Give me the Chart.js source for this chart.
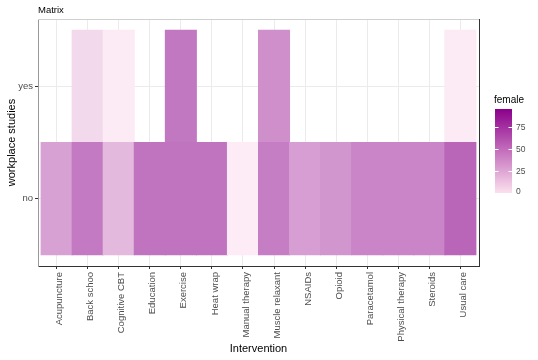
<!DOCTYPE html>
<html><head><meta charset="utf-8">
<script src="https://cdn.jsdelivr.net/npm/chart.js@4/dist/chart.umd.min.js"></script>
<style>html,body{margin:0;padding:0;background:#fff;} #wrap{width:538px;height:360px;}</style>
</head><body><div id="wrap"><canvas id="c" width="538" height="360"></canvas></div>
<script>
const interventions = ["Acupuncture","Back schoo","Cognitive CBT","Education","Exercise","Heat wrap","Manual therapy","Muscle relaxant","NSAIDs","Opioid","Paracetamol","Physical therapy","Steroids","Usual care"];
const studyLevels = ["no","yes"];
const femaleNo  = [54, 82, 37, 86, 86, 86, 0, 79, 56, 62, 74, 74, 74, 96];
const femaleYes = [null, 14, 1, null, 84, null, null, 67, null, null, null, null, null, 2];
const legendBreaks = [0, 25, 50, 75];

const FONT = "'Liberation Sans', Arial, sans-serif";
const allVals = femaleNo.concat(femaleYes).filter(v => v !== null);
const vMin = Math.min(...allVals), vMax = Math.max(...allVals);
const lowRGB = [252, 224, 238], highRGB = [139, 0, 139];
// colour for value v, composited at opacity a over white
function fill(v, a) {
  const t = (v - vMin) / (vMax - vMin);
  const c = lowRGB.map((l, i) => Math.round((l + (highRGB[i] - l) * t) * a + 255 * (1 - a)));
  return `rgb(${c[0]},${c[1]},${c[2]})`;
}
function cells(values, level) {
  const out = [];
  values.forEach((v, i) => { if (v !== null) out.push({x: i, y: [level + 0.5, level + 1.5], v: v}); });
  return out;
}

const framePlugin = {
  id: 'frame',
  afterDraw(chart) {
    const ctx = chart.ctx, a = chart.chartArea;
    ctx.save();
    ctx.lineWidth = 1;
    ctx.strokeStyle = '#d0d0d0';
    ctx.beginPath(); ctx.moveTo(a.left, a.top + 0.5); ctx.lineTo(a.right, a.top + 0.5); ctx.stroke();
    ctx.strokeStyle = '#333';
    ctx.beginPath(); ctx.moveTo(a.right + 0.5, a.top); ctx.lineTo(a.right + 0.5, a.bottom + 1); ctx.stroke();
    ctx.fillStyle = '#000';
    ctx.font = `9.5px ${FONT}`;
    ctx.textAlign = 'left'; ctx.textBaseline = 'middle';
    ctx.fillText('Matrix', a.left, 10);
    const bx = 495, bw = 17, bTop = 109, bBot = 193;
    const yOf = v => bBot - (v - vMin) / (vMax - vMin) * (bBot - bTop);
    const g = ctx.createLinearGradient(0, bBot, 0, bTop);
    for (let s = 0; s <= 10; s++) {
      g.addColorStop(s / 10, fill(vMin + (vMax - vMin) * s / 10, 1));
    }
    ctx.fillStyle = g;
    ctx.fillRect(bx, bTop, bw, bBot - bTop);
    ctx.fillStyle = '#000';
    ctx.font = `10px ${FONT}`;
    ctx.fillText('female', 494, 100);
    ctx.font = `8.5px ${FONT}`;
    ctx.fillStyle = '#4d4d4d';
    legendBreaks.forEach(b => {
      const y = Math.round(yOf(b)) + 0.5;
      ctx.strokeStyle = '#fff';
      ctx.beginPath(); ctx.moveTo(bx, y); ctx.lineTo(bx + 3.5, y); ctx.moveTo(bx + bw - 3.5, y); ctx.lineTo(bx + bw, y); ctx.stroke();
      ctx.fillText(String(b), 516, Math.min(y, 192));
    });
    ctx.restore();
  }
};

const tickFont = {family: FONT, size: 9.5};
new Chart(document.getElementById('c').getContext('2d'), {
  type: 'bar',
  data: {
    datasets: [
      {label: 'no', data: cells(femaleNo, 0), backgroundColor: c => fill(c.raw.v, 0.6), grouped: false, barPercentage: 1, categoryPercentage: 1, borderWidth: 0, inflateAmount: 0.5},
      {label: 'yes', data: cells(femaleYes, 1), backgroundColor: c => fill(c.raw.v, 0.6), grouped: false, barPercentage: 1, categoryPercentage: 1, borderWidth: 0, inflateAmount: 0.5}
    ]
  },
  options: {
    responsive: false, animation: false, devicePixelRatio: 1,
    layout: {padding: {top: 19, right: 59, bottom: 0, left: 0}},
    plugins: {legend: {display: false}, tooltip: {enabled: false}, title: {display: false}},
    scales: {
      x: {
        type: 'linear', min: -0.6, max: 13.6, offset: false,
        afterBuildTicks: s => { s.ticks = interventions.map((_, i) => ({value: i})); },
        afterFit: s => { s.height = 94; },
        ticks: {autoSkip: false, maxRotation: 90, minRotation: 90, padding: 3, labelOffset: 3, color: '#4d4d4d', font: tickFont,
                callback: v => interventions[Math.round(v)]},
        grid: {offset: false, color: '#ebebeb', lineWidth: 1, tickLength: 3, tickColor: '#333', drawTicks: true},
        border: {display: true, color: '#333', width: 1},
        title: {display: true, text: 'Intervention', color: '#000', font: {family: FONT, size: 11}, padding: {top: 0, bottom: 4}}
      },
      y: {
        type: 'linear', min: 0.4, max: 2.6,
        afterBuildTicks: s => { s.ticks = studyLevels.map((_, i) => ({value: i + 1})); },
        afterFit: s => { s.width = 38; },
        ticks: {padding: 2, color: '#4d4d4d', font: tickFont, callback: v => studyLevels[Math.round(v) - 1]},
        grid: {color: '#ebebeb', lineWidth: 1, tickLength: 3, tickColor: '#333', drawTicks: true},
        border: {display: true, color: '#999', width: 1},
        title: {display: true, text: 'workplace studies', color: '#000', font: {family: FONT, size: 11}, padding: {top: 5, bottom: 0}}
      }
    }
  },
  plugins: [framePlugin]
});
</script></body></html>
